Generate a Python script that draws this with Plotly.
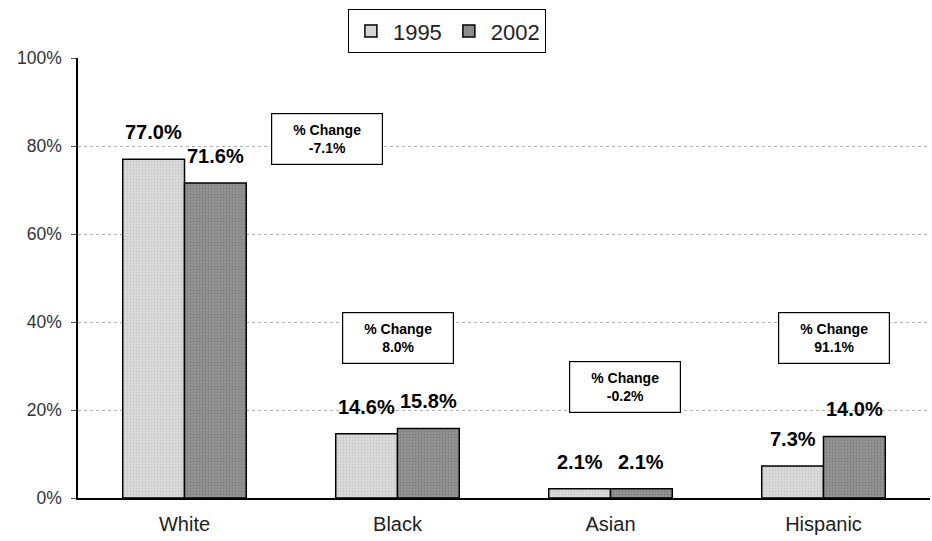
import plotly.graph_objects as go

categories = ["White", "Black", "Asian", "Hispanic"]
values_1995 = [77.0, 14.6, 2.1, 7.3]
values_2002 = [71.6, 15.8, 2.1, 14.0]
pct_change = ["-7.1%", "8.0%", "-0.2%", "91.1%"]
box_y = [81.6, 36.4, 25.2, 36.4]
box_dx = [0.67, 0.0, 0.068, 0.05]
y_ticks = [0, 20, 40, 60, 80, 100]

FONT = "Arial, Liberation Sans, sans-serif"
BAR_W = 0.29

fig = go.Figure()
fig.add_trace(go.Bar(
    name="1995", x=list(range(len(categories))), y=values_1995, width=BAR_W, offset=-BAR_W,
    marker=dict(color="#d2d2d2", line=dict(color="black", width=1.5),
                pattern=dict(shape=".", fgcolor="#b0b0b0", bgcolor="#dcdcdc", size=3, solidity=0.3)),
))
fig.add_trace(go.Bar(
    name="2002", x=list(range(len(categories))), y=values_2002, width=BAR_W, offset=0,
    marker=dict(color="#8a8a8a", line=dict(color="black", width=1.5),
                pattern=dict(shape=".", fgcolor="#606060", bgcolor="#959595", size=3, solidity=0.3)),
))

for i in range(len(categories)):
    for vals, dx in ((values_1995, -BAR_W / 2), (values_2002, BAR_W / 2)):
        fig.add_annotation(
            x=i + dx, y=vals[i], xref="x", yref="y", yanchor="bottom", yshift=14,
            text=f"{vals[i]:.1f}%", showarrow=False,
            font=dict(family=FONT, size=20, color="black", weight="bold"),
        )

for i, t in enumerate(pct_change):
    fig.add_annotation(
        x=i + box_dx[i], y=box_y[i], xref="x", yref="y",
        text=f"% Change<br>{t}", showarrow=False,
        font=dict(family=FONT, size=14, color="black", weight="bold"),
        bordercolor="black", borderwidth=1.2, borderpad=4,
        bgcolor="white", width=102, height=42,
    )

fig.update_layout(
    width=932, height=541,
    margin=dict(l=78, r=2, t=58, b=43, autoexpand=False),
    paper_bgcolor="white", plot_bgcolor="white",
    barmode="overlay",
    font=dict(family=FONT, size=16, color="#222"),
    showlegend=True,
    legend=dict(orientation="h", x=0.433, xanchor="center", y=1.111, yanchor="top",
                bordercolor="black", borderwidth=1, bgcolor="white",
                font=dict(size=22, color="#222"), itemwidth=34, traceorder="normal"),
    xaxis=dict(range=[-0.5, len(categories) - 0.5], tickvals=list(range(len(categories))),
               ticktext=categories, showline=True, linecolor="black", linewidth=1.5,
               ticks="", tickfont=dict(size=20), showgrid=False, zeroline=False,
               ticklabelstandoff=7),
    yaxis=dict(range=[0, 100], tickvals=y_ticks, ticktext=[f"{v}%" for v in y_ticks],
               showline=True, linecolor="black", linewidth=1.5, ticks="outside",
               ticklen=5, tickcolor="#555",
               showgrid=True, gridcolor="#b0b0b0", griddash="dot", gridwidth=1,
               zeroline=False, tickfont=dict(size=17.5, color="#333"),
               ticklabelstandoff=6),
)

fig.write_html("out.html", config={"displayModeBar": False},
               post_script="document.body.style.margin='0';")
